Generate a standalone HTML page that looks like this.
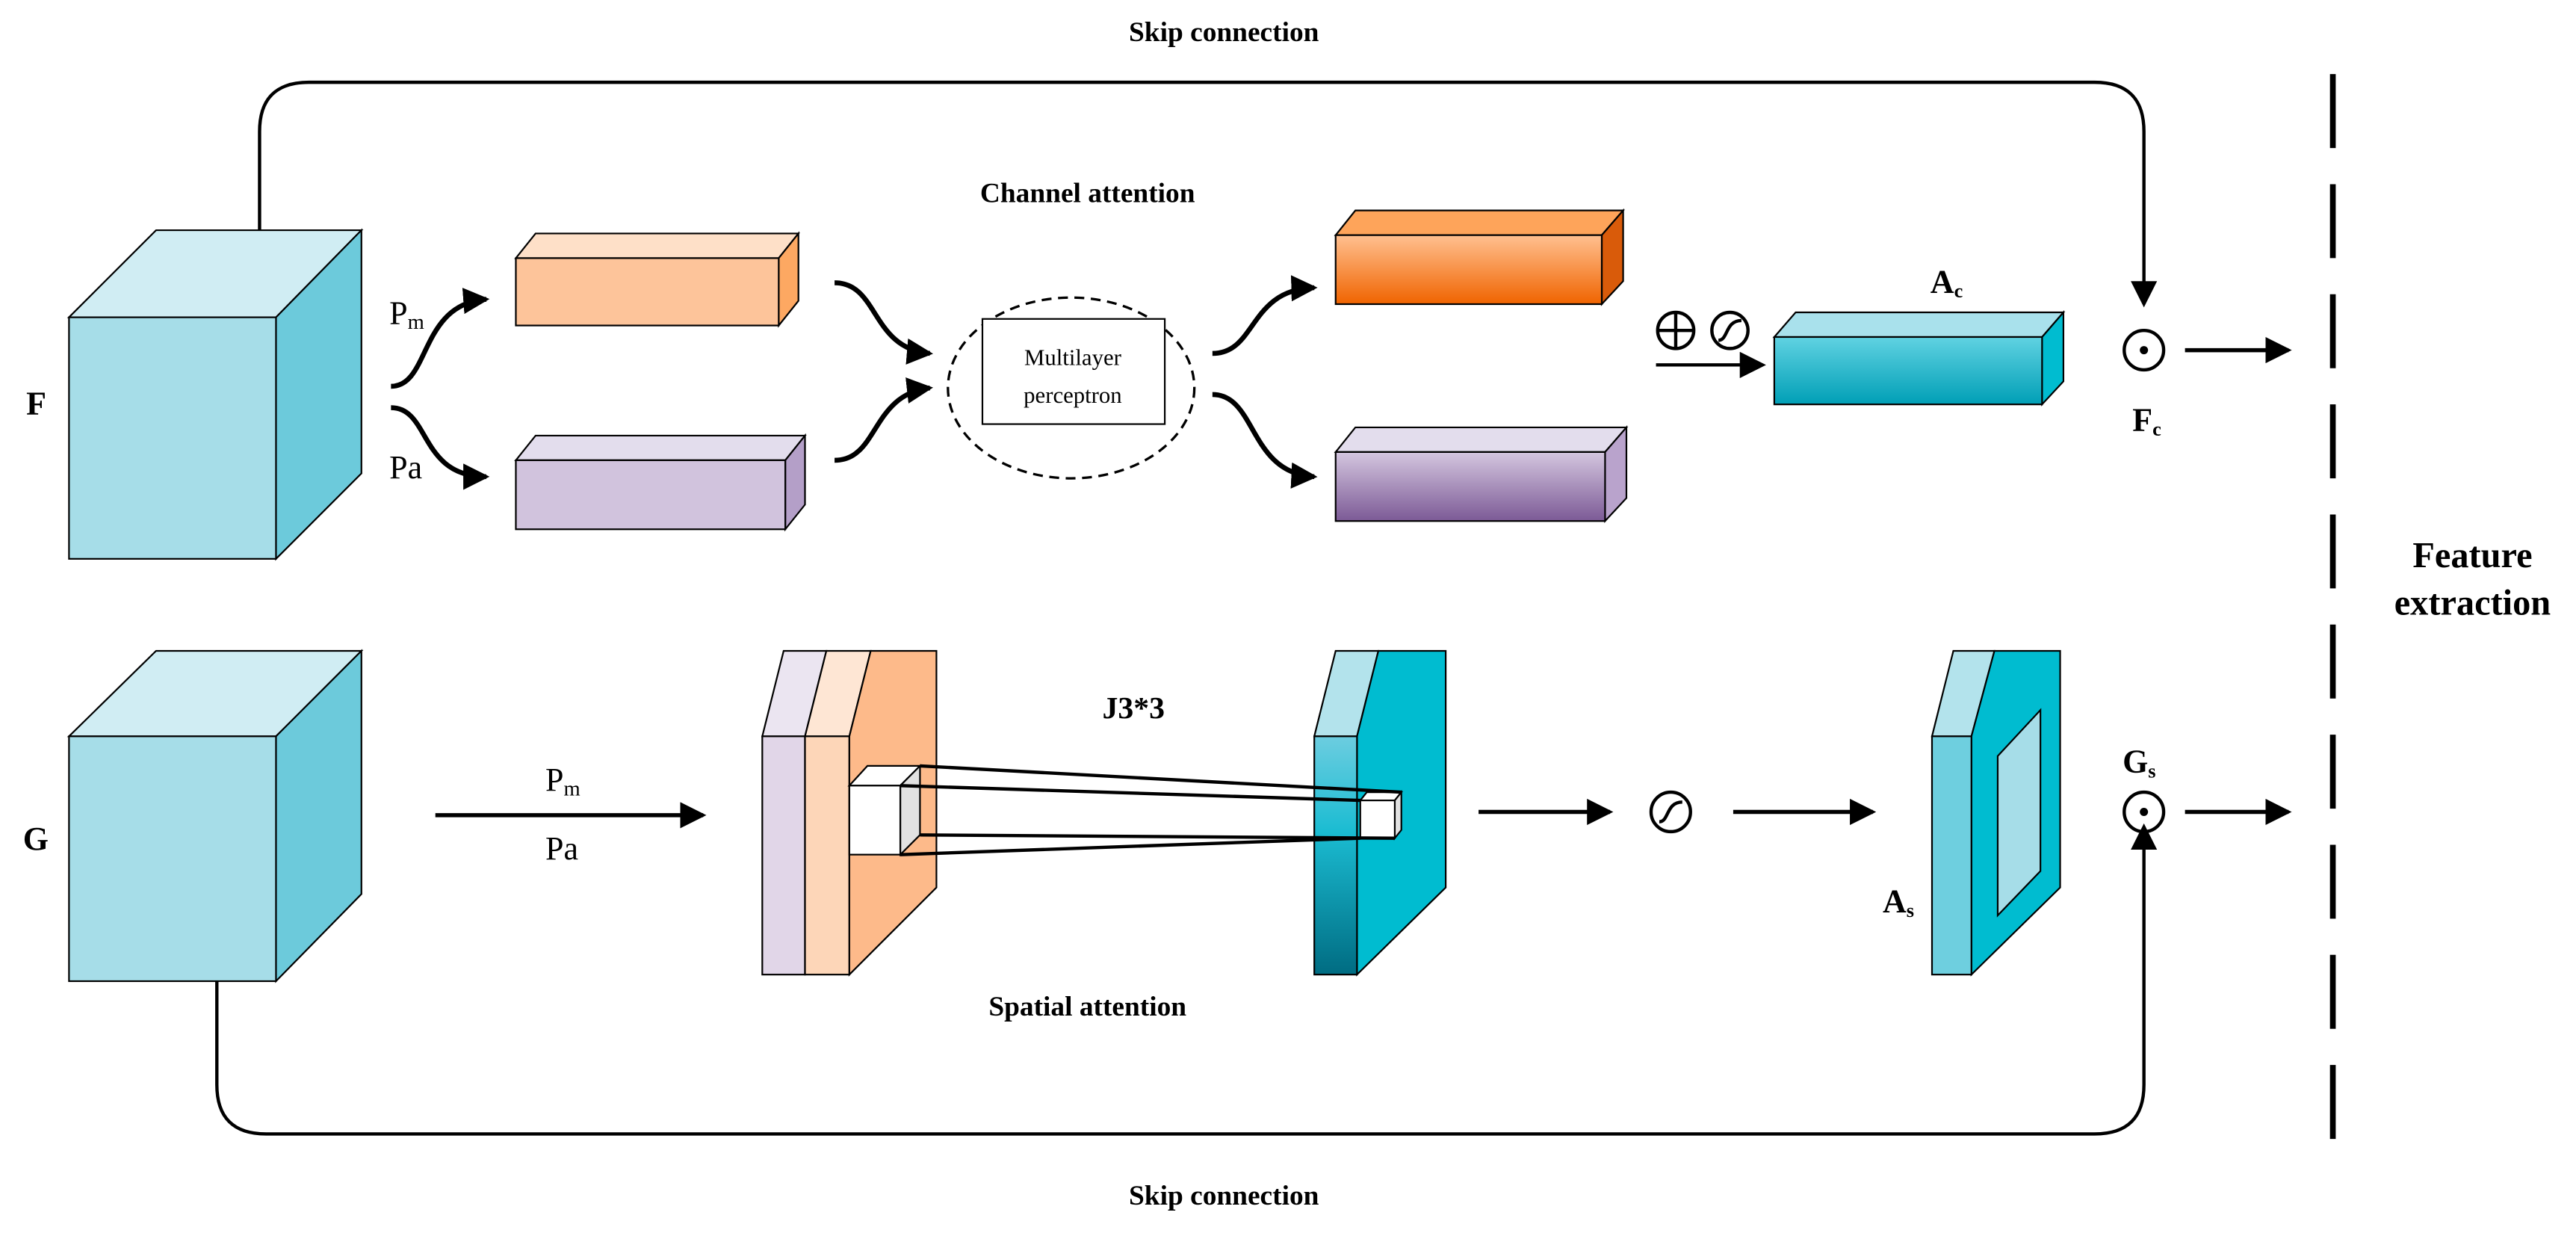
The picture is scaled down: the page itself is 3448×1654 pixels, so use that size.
<!DOCTYPE html>
<html><head><meta charset="utf-8"><style>html,body{margin:0;padding:0;background:#fff}svg{display:block}text{font-family:"Liberation Serif",serif}</style></head><body>
<svg width="3448" height="1654" viewBox="0 0 1568 752" xmlns="http://www.w3.org/2000/svg">
<defs>
<marker id="ah" markerWidth="10" markerHeight="10" refX="8" refY="5" orient="auto" markerUnits="userSpaceOnUse"><path d="M0,0 L10,5 L0,10 Z" fill="#000"/></marker>
<marker id="ah2" markerWidth="16" markerHeight="16" refX="14" refY="8" orient="auto" markerUnits="userSpaceOnUse"><path d="M0,0 L16,8 L0,16 Z" fill="#000"/></marker>
<linearGradient id="go" x1="0" y1="0" x2="0" y2="1"><stop offset="0" stop-color="#ffc090"/><stop offset="1" stop-color="#f06400"/></linearGradient>
<linearGradient id="gp" x1="0" y1="0" x2="0" y2="1"><stop offset="0" stop-color="#d4c6df"/><stop offset="1" stop-color="#7c5a96"/></linearGradient>
<linearGradient id="gt" x1="0" y1="0" x2="0" y2="1"><stop offset="0" stop-color="#60d2e2"/><stop offset="1" stop-color="#009fb6"/></linearGradient>
<linearGradient id="gb" x1="0" y1="0" x2="0" y2="1"><stop offset="0" stop-color="#6ccde0"/><stop offset="0.4" stop-color="#1bbcd2"/><stop offset="1" stop-color="#006c82"/></linearGradient>
</defs>
<g stroke="#000" stroke-width="1">
<!-- skip top -->
<path d="M158,140 V80 Q158,50 188,50 H1275 Q1305,50 1305,80 V185" fill="none" stroke-width="2" marker-end="url(#ah2)"/>
<!-- skip bottom -->
<path d="M132,597 V660 Q132,690 162,690 H1275 Q1305,690 1305,660 V503" fill="none" stroke-width="2" marker-end="url(#ah2)"/>
<!-- F cube -->
<polygon points="42,193 95,140 220,140 168,193" fill="#d0edf3"/>
<polygon points="168,193 220,140 220,288 168,340" fill="#6ccadb"/>
<rect x="42" y="193" width="126" height="147" fill="#a6dde8"/>
<!-- G cube -->
<polygon points="42,448 95,396 220,396 168,448" fill="#d0edf3"/>
<polygon points="168,448 220,396 220,544 168,597" fill="#6ccadb"/>
<rect x="42" y="448" width="126" height="149" fill="#a6dde8"/>
<!-- Pm box -->
<polygon points="314,157 326,142 486,142 474,157" fill="#fee0c8"/>
<polygon points="474,157 486,142 486,183 474,198" fill="#fda862"/>
<rect x="314" y="157" width="160" height="41" fill="#fdc49a"/>
<!-- Pa box -->
<polygon points="314,280 326,265 490,265 478,280" fill="#e3dded"/>
<polygon points="478,280 490,265 490,307 478,322" fill="#b49fc8"/>
<rect x="314" y="280" width="164" height="42" fill="#d1c3dd"/>
<!-- out orange -->
<polygon points="813,143 825,128 988,128 975,143" fill="#fea45a"/>
<polygon points="975,143 988,128 988,171 975,185" fill="#d95b0a"/>
<rect x="813" y="143" width="162" height="42" fill="url(#go)"/>
<!-- out purple -->
<polygon points="813,275 825,260 990,260 977,275" fill="#e3dded"/>
<polygon points="977,275 990,260 990,303 977,317" fill="#b9a3cc"/>
<rect x="813" y="275" width="164" height="42" fill="url(#gp)"/>
<!-- Ac -->
<polygon points="1080,205 1093,190 1256,190 1243,205" fill="#a9e1ec"/>
<polygon points="1243,205 1256,190 1256,232 1243,246" fill="#00bcd0"/>
<rect x="1080" y="205" width="163" height="41" fill="url(#gt)"/>
</g>
<!-- curved arrows -->
<g fill="none" stroke="#000" stroke-width="3" marker-end="url(#ah2)">
<path d="M238,235 C262,235 255,185 296,182"/>
<path d="M238,248 C262,248 255,290 296,290"/>
<path d="M508,172 C535,172 530,212 566,215"/>
<path d="M508,280 C535,280 530,240 566,236"/>
<path d="M738,215 C765,215 760,176 800,175"/>
<path d="M738,240 C765,240 760,288 800,290"/>
</g>
<ellipse cx="652" cy="236" rx="75" ry="55" fill="none" stroke="#000" stroke-width="1.5" stroke-dasharray="6,4"/>
<rect x="598" y="194" width="111" height="64" fill="#fff" stroke="#000" stroke-width="1"/>
<text x="653" y="222" font-size="14" text-anchor="middle">Multilayer</text>
<text x="653" y="245" font-size="14" text-anchor="middle">perceptron</text>
<text x="662" y="123" font-size="17" font-weight="bold" text-anchor="middle">Channel attention</text>
<text x="745" y="25" font-size="17" font-weight="bold" text-anchor="middle">Skip connection</text>
<text x="745" y="733" font-size="17" font-weight="bold" text-anchor="middle">Skip connection</text>
<text x="16" y="252" font-size="20" font-weight="bold">F</text>
<text x="14" y="517" font-size="20" font-weight="bold">G</text>
<text x="237" y="197" font-size="20">P<tspan font-size="13" dy="3">m</tspan></text>
<text x="237" y="291" font-size="20">Pa</text>
<!-- plus and sigmoid -->
<g fill="none" stroke="#000" stroke-width="2">
<circle cx="1020" cy="201" r="11"/><path d="M1009,201 H1031 M1020,190 V212"/>
<circle cx="1053" cy="201" r="11"/><path d="M1046,207 C1052,207 1050,195 1060,195"/>
</g>
<line x1="1008" y1="222" x2="1073" y2="222" stroke="#000" stroke-width="2" marker-end="url(#ah2)"/>
<text x="1175" y="178" font-size="20" font-weight="bold">A<tspan font-size="12" dy="3">c</tspan></text>
<!-- odot top -->
<circle cx="1305" cy="213" r="12" fill="none" stroke="#000" stroke-width="2"/><circle cx="1305" cy="213" r="2.5"/>
<text x="1298" y="262" font-size="20" font-weight="bold">F<tspan font-size="12" dy="3">c</tspan></text>
<line x1="1330" y1="213" x2="1393" y2="213" stroke="#000" stroke-width="2.5" marker-end="url(#ah2)"/>
<!-- dashed -->
<line x1="1420" y1="45" x2="1420" y2="705" stroke="#000" stroke-width="3.5" stroke-dasharray="45,22"/>
<text x="1505" y="345" font-size="22" font-weight="bold" text-anchor="middle">Feature</text>
<text x="1505" y="374" font-size="22" font-weight="bold" text-anchor="middle">extraction</text>
<!-- spatial -->
<line x1="265" y1="496" x2="428" y2="496" stroke="#000" stroke-width="2.5" marker-end="url(#ah2)"/>
<text x="332" y="481" font-size="20">P<tspan font-size="13" dy="3">m</tspan></text>
<text x="332" y="523" font-size="20">Pa</text>
<g stroke="#000" stroke-width="1">
<polygon points="464,448 477,396 503,396 490,448" fill="#ebe5f1"/>
<rect x="464" y="448" width="26" height="145" fill="#e1d6e8"/>
<polygon points="490,448 503,396 530,396 517,448" fill="#fee6d4"/>
<rect x="490" y="448" width="27" height="145" fill="#fdd6b8"/>
<polygon points="517,448 530,396 570,396 570,540 517,593" fill="#fdba8a"/>
<polygon points="517,478 528,466 560,466 548,478" fill="#fff"/>
<polygon points="548,478 560,466 560,508 548,520" fill="#e2e2e2"/>
<rect x="517" y="478" width="31" height="42" fill="#fff"/>
<polygon points="800,448 813,396 839,396 826,448" fill="#b3e3ec"/>
<polygon points="826,448 839,396 880,396 880,540 826,593" fill="#00bcd0"/>
<rect x="800" y="448" width="26" height="145" fill="url(#gb)"/>
<polygon points="828,487 832,482 853,482 849,487" fill="#fff"/>
<polygon points="849,487 853,482 853,505 849,510" fill="#e2e2e2"/>
<rect x="828" y="487" width="21" height="23" fill="#fff"/>
<polygon points="1176,448 1189,396 1214,396 1200,448" fill="#b3e3ec"/>
<polygon points="1200,448 1214,396 1254,396 1254,540 1200,593" fill="#00bcd0"/>
<polygon points="1216,460 1242,432 1242,530 1216,557" fill="#a6dde8"/>
<rect x="1176" y="448" width="24" height="145" fill="#6ecfdf"/>
</g>
<g stroke="#000" stroke-width="2" fill="none">
<line x1="548" y1="478" x2="828" y2="487"/>
<line x1="548" y1="520" x2="828" y2="510"/>
<line x1="560" y1="466" x2="853" y2="482"/>
<line x1="560" y1="508" x2="849" y2="510"/>
</g>
<text x="690" y="437" font-size="19" font-weight="bold" text-anchor="middle">J3*3</text>
<text x="662" y="618" font-size="17" font-weight="bold" text-anchor="middle">Spatial attention</text>
<line x1="900" y1="494" x2="980" y2="494" stroke="#000" stroke-width="2.5" marker-end="url(#ah2)"/>
<circle cx="1017" cy="494" r="12" fill="none" stroke="#000" stroke-width="2"/>
<path d="M1010,500 C1016,500 1014,488 1024,488" fill="none" stroke="#000" stroke-width="2"/>
<line x1="1055" y1="494" x2="1140" y2="494" stroke="#000" stroke-width="2.5" marker-end="url(#ah2)"/>
<text x="1146" y="555" font-size="20" font-weight="bold">A<tspan font-size="12" dy="3">s</tspan></text>
<text x="1292" y="470" font-size="20" font-weight="bold">G<tspan font-size="12" dy="3">s</tspan></text>
<circle cx="1305" cy="494" r="12" fill="none" stroke="#000" stroke-width="2"/><circle cx="1305" cy="494" r="2.5"/>
<line x1="1330" y1="494" x2="1393" y2="494" stroke="#000" stroke-width="2.5" marker-end="url(#ah2)"/>
</svg>
</body></html>
